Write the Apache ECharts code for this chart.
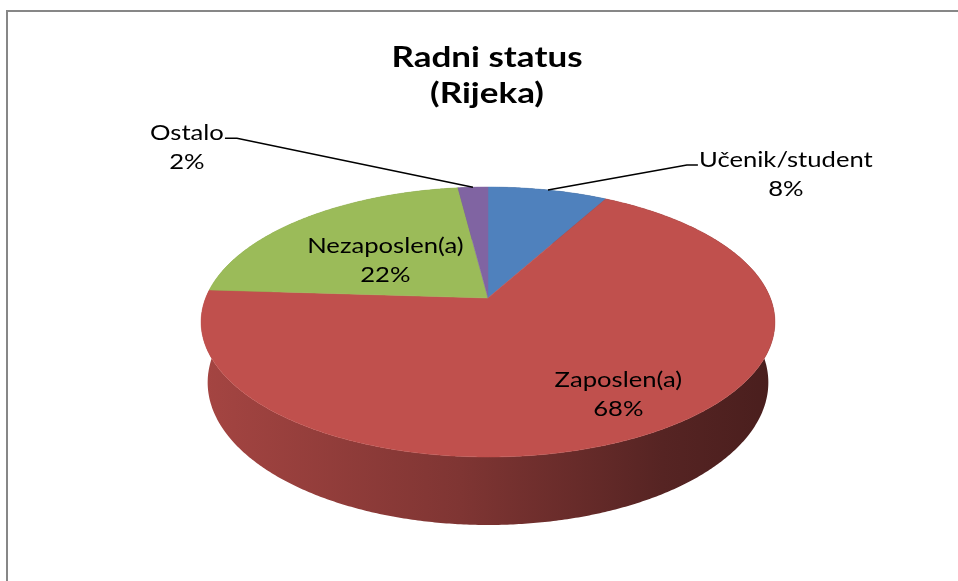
<!DOCTYPE html>
<html><head><meta charset="utf-8">
<script src="https://cdn.jsdelivr.net/npm/echarts@6/dist/echarts.min.js"></script>
<style>html,body{margin:0;padding:0;background:#fff;overflow:hidden}#c{width:958px;height:581px}</style>
</head><body><div id="c"></div>
<script>
// ---- data ----
const categories = ['Učenik/student', 'Zaposlen(a)', 'Nezaposlen(a)', 'Ostalo'];
const values = [8, 68, 22, 2];
const percentLabels = ['8%', '68%', '22%', '2%'];
const titleText = 'Radni status\n(Rijeka)';

// ---- style ----
const colors = ['#4F81BD', '#C0504D', '#9BBB59', '#8064A2'];
const FONT = 'Lato, "Open Sans", sans-serif';
const TEXT_SX = 1.22; // horizontal stretch of the reference text
// perspective pie geometry
const CX = 488, CY = 298, F = 1406, D = 4.98, SINA = 0.463, COSA = 0.886, T = 0.244;
// label placement: inside labels use radius factor + offset; outside labels use leader lines
const labelCfg = [
  { outside: true, label: [238, -15], elbow: [139, -25], end: [150, -25] },
  { outside: false, r: 0.8, dx: 6, dy: -8 },
  { outside: false, r: 0.52, dx: -2, dy: 6 },
  { outside: true, label: [-286, -39], elbow: [-236, -49], end: [-248, -49] }
];

function proj(x, yd, z) {
  const w = D + yd * COSA - z * SINA;
  return [CX + F * x / w, CY - F * (yd * SINA + z * COSA) / w];
}
function rim(deg, r, z) {
  const a = deg * Math.PI / 180;
  return proj(r * Math.sin(a), r * Math.cos(a), z);
}
function shade(hex, f) {
  const n = parseInt(hex.slice(1), 16);
  const r = Math.round(((n >> 16) & 255) * f), g = Math.round(((n >> 8) & 255) * f), b = Math.round((n & 255) * f);
  return 'rgb(' + r + ',' + g + ',' + b + ')';
}

const total = values.reduce((a, b) => a + b, 0);

function renderItem(params, api) {
  const i = params.dataIndex;
  let before = 0;
  for (let k = 0; k < i; k++) before += values[k];
  const v = api.value(0);
  const a0 = before / total * 360, a1 = (before + v) / total * 360;
  const top = [proj(0, 0, 0)];
  const wallTop = [], wallBot = [];
  const steps = Math.max(2, Math.ceil((a1 - a0) / 0.5));
  for (let s = 0; s <= steps; s++) {
    const d = a0 + (a1 - a0) * s / steps;
    const p = rim(d, 1, 0);
    top.push(p);
    wallTop.push(p);
    wallBot.push(rim(d, 1, -T));
  }
  const wall = wallTop.concat(wallBot.reverse());
  const col = colors[i];
  const children = [];
  children.push({
    type: 'polygon', z2: 1,
    shape: { points: wall },
    style: {
      fill: new echarts.graphic.LinearGradient(200, 0, 778, 0, [
        { offset: 0, color: shade(col, 0.86) },
        { offset: 0.45, color: shade(col, 0.66) },
        { offset: 0.8, color: shade(col, 0.45) },
        { offset: 1, color: shade(col, 0.38) }
      ], true),
      stroke: null
    }
  });
  children.push({
    type: 'polygon', z2: 10,
    shape: { points: top },
    style: { fill: col, stroke: col, lineWidth: 0.5 }
  });
  const mid = (a0 + a1) / 2;
  const cfg = labelCfg[i];
  const txt = categories[i] + '\n' + percentLabels[i];
  let lx, ly;
  if (cfg.outside) {
    const anc = rim(mid, 1, 0);
    lx = anc[0] + cfg.label[0]; ly = anc[1] + cfg.label[1];
    children.push({
      type: 'polyline', z2: 20,
      shape: { points: [anc, [anc[0] + cfg.elbow[0], anc[1] + cfg.elbow[1]], [anc[0] + cfg.end[0], anc[1] + cfg.end[1]]] },
      style: { stroke: '#000', lineWidth: 1.5, fill: null }
    });
  } else {
    const p = rim(mid, cfg.r, 0);
    lx = p[0] + cfg.dx; ly = p[1] + cfg.dy;
  }
  children.push({
    type: 'text', z2: 30,
    x: lx, y: ly, scaleX: TEXT_SX,
    style: {
      text: txt, x: 0, y: 0,
      textAlign: 'center', textVerticalAlign: 'middle',
      font: '21px ' + FONT, lineHeight: 29, fill: '#000'
    }
  });
  return { type: 'group', children: children };
}

const chart = echarts.init(document.getElementById('c'), null, { renderer: 'canvas' });
chart.setOption({
  animation: false,
  backgroundColor: '#fff',
  graphic: [{
    type: 'polyline', x: 0, y: 0, z: -10, silent: true,
    shape: { points: [[7, 700], [7, 11], [1100, 11]] },
    style: { fill: null, stroke: '#878787', lineWidth: 2 }
  }, {
    type: 'text', x: 487, y: 76, scaleX: 1.25, silent: true, z: 10,
    style: {
      text: titleText, x: 0, y: 0,
      textAlign: 'center', textVerticalAlign: 'middle',
      font: 'bold 28px ' + FONT, lineHeight: 36, fill: '#000'
    }
  }],
  series: [{
    type: 'custom',
    coordinateSystem: 'none',
    silent: true,
    renderItem: renderItem,
    data: values.map((v, i) => ({ name: categories[i], value: [v] }))
  }]
});
</script>
</body></html>
